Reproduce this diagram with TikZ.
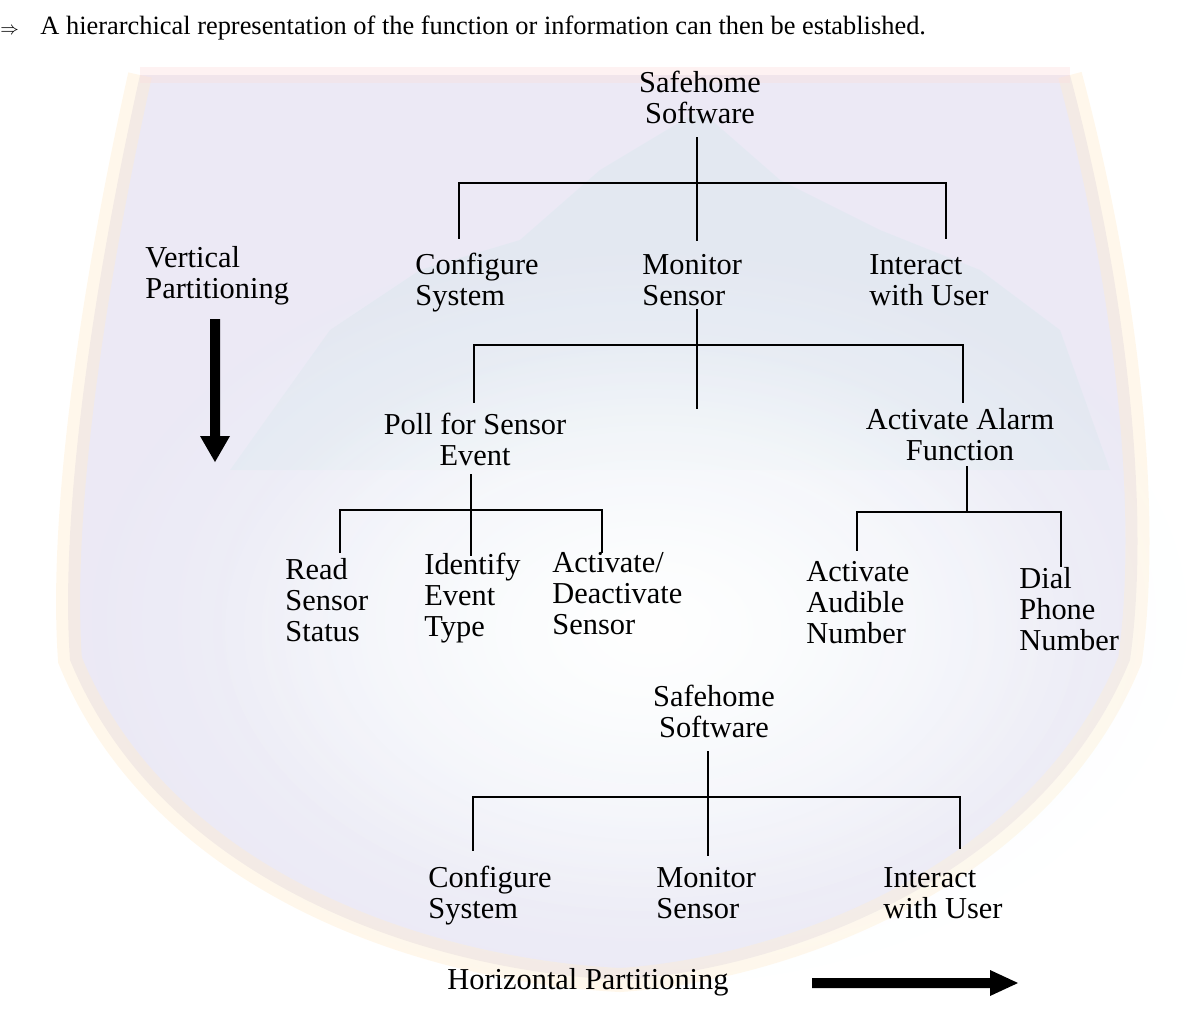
\documentclass[tikz,border=0pt]{standalone}
\usepackage{fontspec}
\setmainfont{Liberation Serif}
\usetikzlibrary{fadings}
\definecolor{shieldlav}{RGB}{229,226,242}
\definecolor{rimwarm}{RGB}{255,236,205}
\definecolor{rimpink}{RGB}{252,222,222}
\definecolor{innerpale}{RGB}{244,250,252}
\definecolor{hillgrey}{RGB}{218,231,238}
\tikzfading[name=softdisc, inner color=transparent!0, outer color=transparent!100]
\begin{document}
\begin{tikzpicture}[x=0.5pt,y=-0.5pt,
  lbl/.style={inner sep=0pt,anchor=base west,align=left,font=\fontsize{15.2}{15.4}\selectfont},
  clbl/.style={lbl,anchor=base,align=center},
  tree/.style={line width=1pt,line cap=rect},
  bigarrow/.style={fill=black,draw=none}]
\useasboundingbox (0,0) rectangle (1196,1029);

% ---------- faded emblem in the background ----------
\begin{scope}
  \path[fill=shieldlav,opacity=0.75]
    (140,75) -- (1070,75) .. controls (1130,300) and (1150,520) .. (1130,660)
    .. controls (1040,880) and (780,970) .. (620,980)
    .. controls (420,970) and (160,880) .. (70,660)
    .. controls (60,520) and (90,300) .. cycle;
  \draw[rimwarm,line width=12pt,opacity=0.4]
    (1070,75) .. controls (1130,300) and (1150,520) .. (1130,660)
    .. controls (1040,880) and (780,970) .. (620,980)
    .. controls (420,970) and (160,880) .. (70,660)
    .. controls (60,520) and (90,300) .. (140,75);
  \draw[rimpink,line width=8pt,opacity=0.4] (140,75) -- (1070,75);
  \fill[hillgrey,opacity=0.45]
    (230,470) -- (330,330) -- (420,270) -- (520,240) -- (600,170)
    -- (700,110) -- (780,180) -- (880,230) -- (980,270) -- (1060,330)
    -- (1110,470) -- cycle;
  \fill[innerpale,path fading=softdisc] (650,620) ellipse (560 and 380);
  \fill[white,path fading=softdisc] (650,630) ellipse (440 and 290);
\end{scope}

% heading
\node[inner sep=0pt,anchor=base west,font=\fontsize{13.2}{15}\selectfont] (head) at (0,34)
  {\makebox[40\dimexpr0.5pt\relax][l]{\small$\Rightarrow$}A hierarchical representation of the function or information can then be established.};

% ---------- vertical partitioning tree ----------
\node[clbl] (safe1) at (700,123) {Safehome\\Software};
\node[lbl] (cfg1) at (415,305) {Configure\\System};
\node[lbl] (mon1) at (642,305) {Monitor\\Sensor};
\node[lbl] (int1) at (869,305) {Interact\\with User};

\coordinate (s1top) at (697,138);
\coordinate (s1bl) at (459,183);
\coordinate (s1br) at (946,183);
\coordinate (s1dl) at (459,238);
\coordinate (s1dm) at (697,240);
\coordinate (s1dr) at (946,238);
\draw[tree] (s1top) -- (s1dm);
\draw[tree] (s1dl) -- (s1bl) -- (s1br) -- (s1dr);

\node[clbl] (poll) at (475,465) {Poll for Sensor\\Event};
\node[clbl] (alarm) at (960,460) {Activate Alarm\\Function};

\coordinate (m1top) at (697,310);
\coordinate (m1bl) at (474,345);
\coordinate (m1br) at (963,345);
\coordinate (m1dl) at (474,402);
\coordinate (m1dm) at (697,408);
\coordinate (m1dr) at (963,402);
\draw[tree] (m1top) -- (m1dm);
\draw[tree] (m1dl) -- (m1bl) -- (m1br) -- (m1dr);

\node[lbl] (read) at (285,641) {Read\\Sensor\\Status};
\node[lbl] (ident) at (424,636) {Identify\\Event\\Type};
\node[lbl] (actd) at (552,634) {Activate/\\Deactivate\\Sensor};

\coordinate (ptop) at (471,475);
\coordinate (pbl) at (340,510);
\coordinate (pbr) at (602,510);
\coordinate (pdl) at (340,552);
\coordinate (pdm) at (471,555);
\coordinate (pdr) at (602,552);
\draw[tree] (ptop) -- (pdm);
\draw[tree] (pdl) -- (pbl) -- (pbr) -- (pdr);

\node[lbl] (aud) at (806,643) {Activate\\Audible\\Number};
\node[lbl] (dial) at (1019,650) {Dial\\Phone\\Number};

\coordinate (atop) at (967,467);
\coordinate (ajoin) at (967,512);
\coordinate (abl) at (857,512);
\coordinate (abr) at (1061,512);
\coordinate (adl) at (857,550);
\coordinate (adr) at (1061,566);
\draw[tree] (atop) -- (ajoin);
\draw[tree] (adl) -- (abl) -- (abr) -- (adr);

\node[lbl] (vpart) at (145,298) {Vertical\\Partitioning};
\fill[bigarrow] (210,319) -- (220,319) -- (220,436) -- (230,436) -- (215,462)
  -- (200,436) -- (210,436) -- cycle;

% ---------- horizontal partitioning tree ----------
\node[clbl] (safe2) at (714,737) {Safehome\\Software};
\node[lbl] (cfg2) at (428,918) {Configure\\System};
\node[lbl] (mon2) at (656,918) {Monitor\\Sensor};
\node[lbl] (int2) at (883,918) {Interact\\with User};

\coordinate (s2top) at (708,752);
\coordinate (s2bl) at (473,797);
\coordinate (s2br) at (960,797);
\coordinate (s2dl) at (473,850);
\coordinate (s2dm) at (708,855);
\coordinate (s2dr) at (960,848);
\draw[tree] (s2top) -- (s2dm);
\draw[tree] (s2dl) -- (s2bl) -- (s2br) -- (s2dr);

\node[lbl] (hpart) at (447,989) {Horizontal Partitioning};
\fill[bigarrow] (812,978) -- (990,978) -- (990,970) -- (1018,983) -- (990,996)
  -- (990,988) -- (812,988) -- cycle;
\end{tikzpicture}
\end{document}
